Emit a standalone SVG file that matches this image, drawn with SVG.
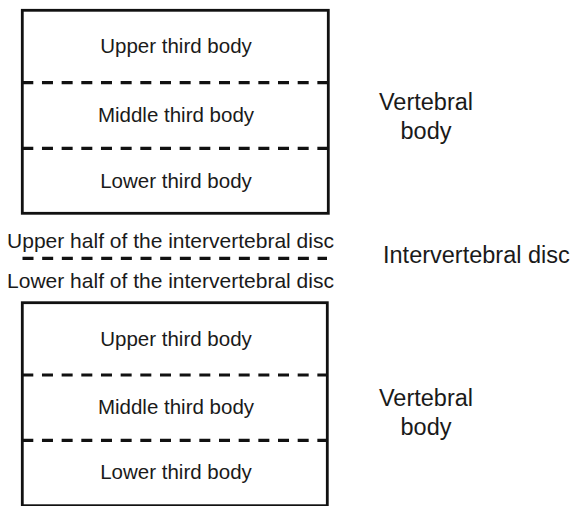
<svg xmlns="http://www.w3.org/2000/svg" width="576" height="506" viewBox="0 0 576 506">
  <style>
    .box { fill: #ffffff; stroke: #111111; stroke-width: 2.8; }
    .dash { stroke: #111111; stroke-width: 3.2; stroke-dasharray: 11 8.67; fill: none; }
    .lbl { font-family: "Liberation Sans", Arial, sans-serif; font-size: 20.5px; fill: #1a1a1a; text-anchor: middle; }
    .big { font-family: "Liberation Sans", Arial, sans-serif; font-size: 23.5px; fill: #1a1a1a; }
  </style>
  <rect width="576" height="506" fill="#ffffff"/>

  <g id="upper-vertebra">
    <rect class="box" x="22.3" y="10.3" width="306" height="203"/>
    <line class="dash" x1="22.3" y1="82.7" x2="328.3" y2="82.7"/>
    <line class="dash" x1="22.3" y1="148.3" x2="328.3" y2="148.3"/>
    <text class="lbl" x="176" y="52.5">Upper third body</text>
    <text class="lbl" x="176" y="122">Middle third body</text>
    <text class="lbl" x="176" y="187.5">Lower third body</text>
  </g>

  <g id="upper-vertebra-label">
    <text class="big" x="426" y="110" text-anchor="middle">Vertebral</text>
    <text class="big" x="426" y="139" text-anchor="middle">body</text>
  </g>

  <g id="disc">
    <text class="lbl" x="170.5" y="247.5" style="font-size:21px">Upper half of the intervertebral disc</text>
    <line class="dash" x1="22.5" y1="258.3" x2="327" y2="258.3"/>
    <text class="lbl" x="170.5" y="288" style="font-size:21px">Lower half of the intervertebral disc</text>
  </g>

  <g id="disc-label">
    <text class="big" x="383" y="262.5">Intervertebral disc</text>
  </g>

  <g id="lower-vertebra">
    <rect class="box" x="22.3" y="302.7" width="305" height="203"/>
    <line class="dash" x1="22.3" y1="375" x2="327.3" y2="375"/>
    <line class="dash" x1="22.3" y1="440.3" x2="327.3" y2="440.3"/>
    <text class="lbl" x="176" y="346">Upper third body</text>
    <text class="lbl" x="176" y="414">Middle third body</text>
    <text class="lbl" x="176" y="479">Lower third body</text>
  </g>

  <g id="lower-vertebra-label">
    <text class="big" x="426" y="406" text-anchor="middle">Vertebral</text>
    <text class="big" x="426" y="435" text-anchor="middle">body</text>
  </g>
</svg>
